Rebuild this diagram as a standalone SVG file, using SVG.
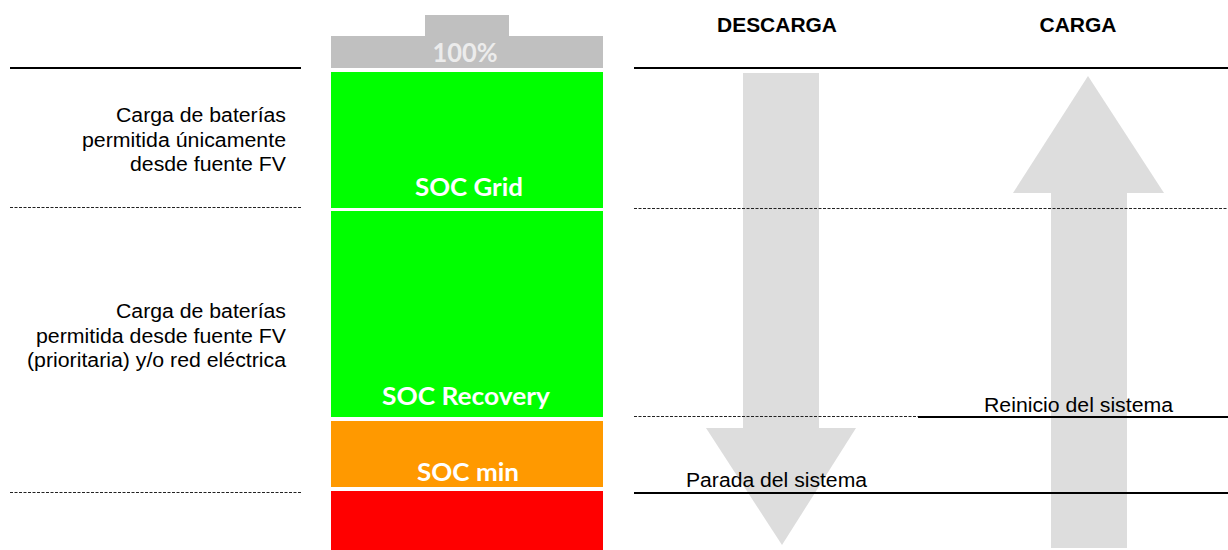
<svg xmlns="http://www.w3.org/2000/svg" width="1228" height="550" viewBox="0 0 1228 550">
<style>
.t{font-family:"Liberation Sans",Arial,sans-serif;font-size:19.5px;fill:#000}
.b{font-weight:bold}
.soc{font-family:Lato,"Open Sans",sans-serif;font-weight:bold;font-size:25px;fill:#ffffff;text-anchor:middle}
.solid{stroke:#000;stroke-width:2;fill:none}
.dash{stroke:#222;stroke-width:1;stroke-dasharray:3,1.5;fill:none}
.arrow{fill:#dddddd}
</style>
<rect width="1228" height="550" fill="#ffffff"/>
<g id="battery">
  <rect x="425" y="15" width="84" height="22" fill="#c0c0c0"/>
  <rect x="331" y="36" width="272" height="32" fill="#c0c0c0"/>
  <text class="soc" x="465" y="62" textLength="65" lengthAdjust="spacingAndGlyphs" style="fill:#ececec;font-size:26px">100%</text>
  <g id="seg-grid">
    <rect x="331" y="72" width="272" height="136" fill="#00ff00"/>
    <text class="soc" x="469" y="196" textLength="108" lengthAdjust="spacingAndGlyphs">SOC Grid</text>
  </g>
  <g id="seg-recovery">
    <rect x="331" y="211" width="272" height="206" fill="#00ff00"/>
    <text class="soc" x="466" y="405" textLength="168" lengthAdjust="spacingAndGlyphs">SOC Recovery</text>
  </g>
  <g id="seg-min">
    <rect x="331" y="421" width="272" height="66" fill="#ff9900"/>
    <text class="soc" x="468" y="481" textLength="102" lengthAdjust="spacingAndGlyphs">SOC min</text>
  </g>
  <g id="seg-red">
    <rect x="331" y="491" width="272" height="59" fill="#ff0000"/>
  </g>
</g>
<g id="arrow-descarga">
  <rect class="arrow" x="743" y="73" width="76" height="356"/>
  <polygon class="arrow" points="706,428 856,428 782,545"/>
</g>
<g id="arrow-carga">
  <polygon class="arrow" points="1088,76 1164,193 1013,193"/>
  <rect class="arrow" x="1051" y="192" width="76" height="356"/>
</g>
<g id="connectors">
  <line class="solid" x1="10" y1="68" x2="301" y2="68"/>
  <line class="dash" x1="10" y1="207.5" x2="301" y2="207.5"/>
  <line class="dash" x1="10" y1="492.5" x2="301" y2="492.5"/>
  <line class="solid" x1="634" y1="68" x2="1228" y2="68"/>
  <line class="dash" x1="634" y1="208.5" x2="1228" y2="208.5"/>
  <line class="dash" x1="634" y1="416.5" x2="918" y2="416.5"/>
  <line class="solid" x1="918" y1="417" x2="1228" y2="417"/>
  <line class="solid" x1="634" y1="493" x2="1228" y2="493"/>
</g>
<g id="labels">
  <text class="t b" x="777" y="32" text-anchor="middle" textLength="120" lengthAdjust="spacingAndGlyphs">DESCARGA</text>
  <text class="t b" x="1078" y="32" text-anchor="middle" textLength="77" lengthAdjust="spacingAndGlyphs">CARGA</text>
  <text class="t" x="686" y="487" textLength="181" lengthAdjust="spacingAndGlyphs">Parada del sistema</text>
  <text class="t" x="984" y="412" textLength="189" lengthAdjust="spacingAndGlyphs">Reinicio del sistema</text>
  <g id="text-fv">
    <text class="t" x="286" y="122" text-anchor="end" textLength="170" lengthAdjust="spacingAndGlyphs">Carga de baterías</text>
    <text class="t" x="286" y="147" text-anchor="end" textLength="204" lengthAdjust="spacingAndGlyphs">permitida únicamente</text>
    <text class="t" x="286" y="171" text-anchor="end" textLength="156" lengthAdjust="spacingAndGlyphs">desde fuente FV</text>
  </g>
  <g id="text-red">
    <text class="t" x="286" y="318" text-anchor="end" textLength="170" lengthAdjust="spacingAndGlyphs">Carga de baterías</text>
    <text class="t" x="286" y="343" text-anchor="end" textLength="250" lengthAdjust="spacingAndGlyphs">permitida desde fuente FV</text>
    <text class="t" x="286" y="367" text-anchor="end" textLength="259" lengthAdjust="spacingAndGlyphs">(prioritaria) y/o red eléctrica</text>
  </g>
</g>
</svg>
